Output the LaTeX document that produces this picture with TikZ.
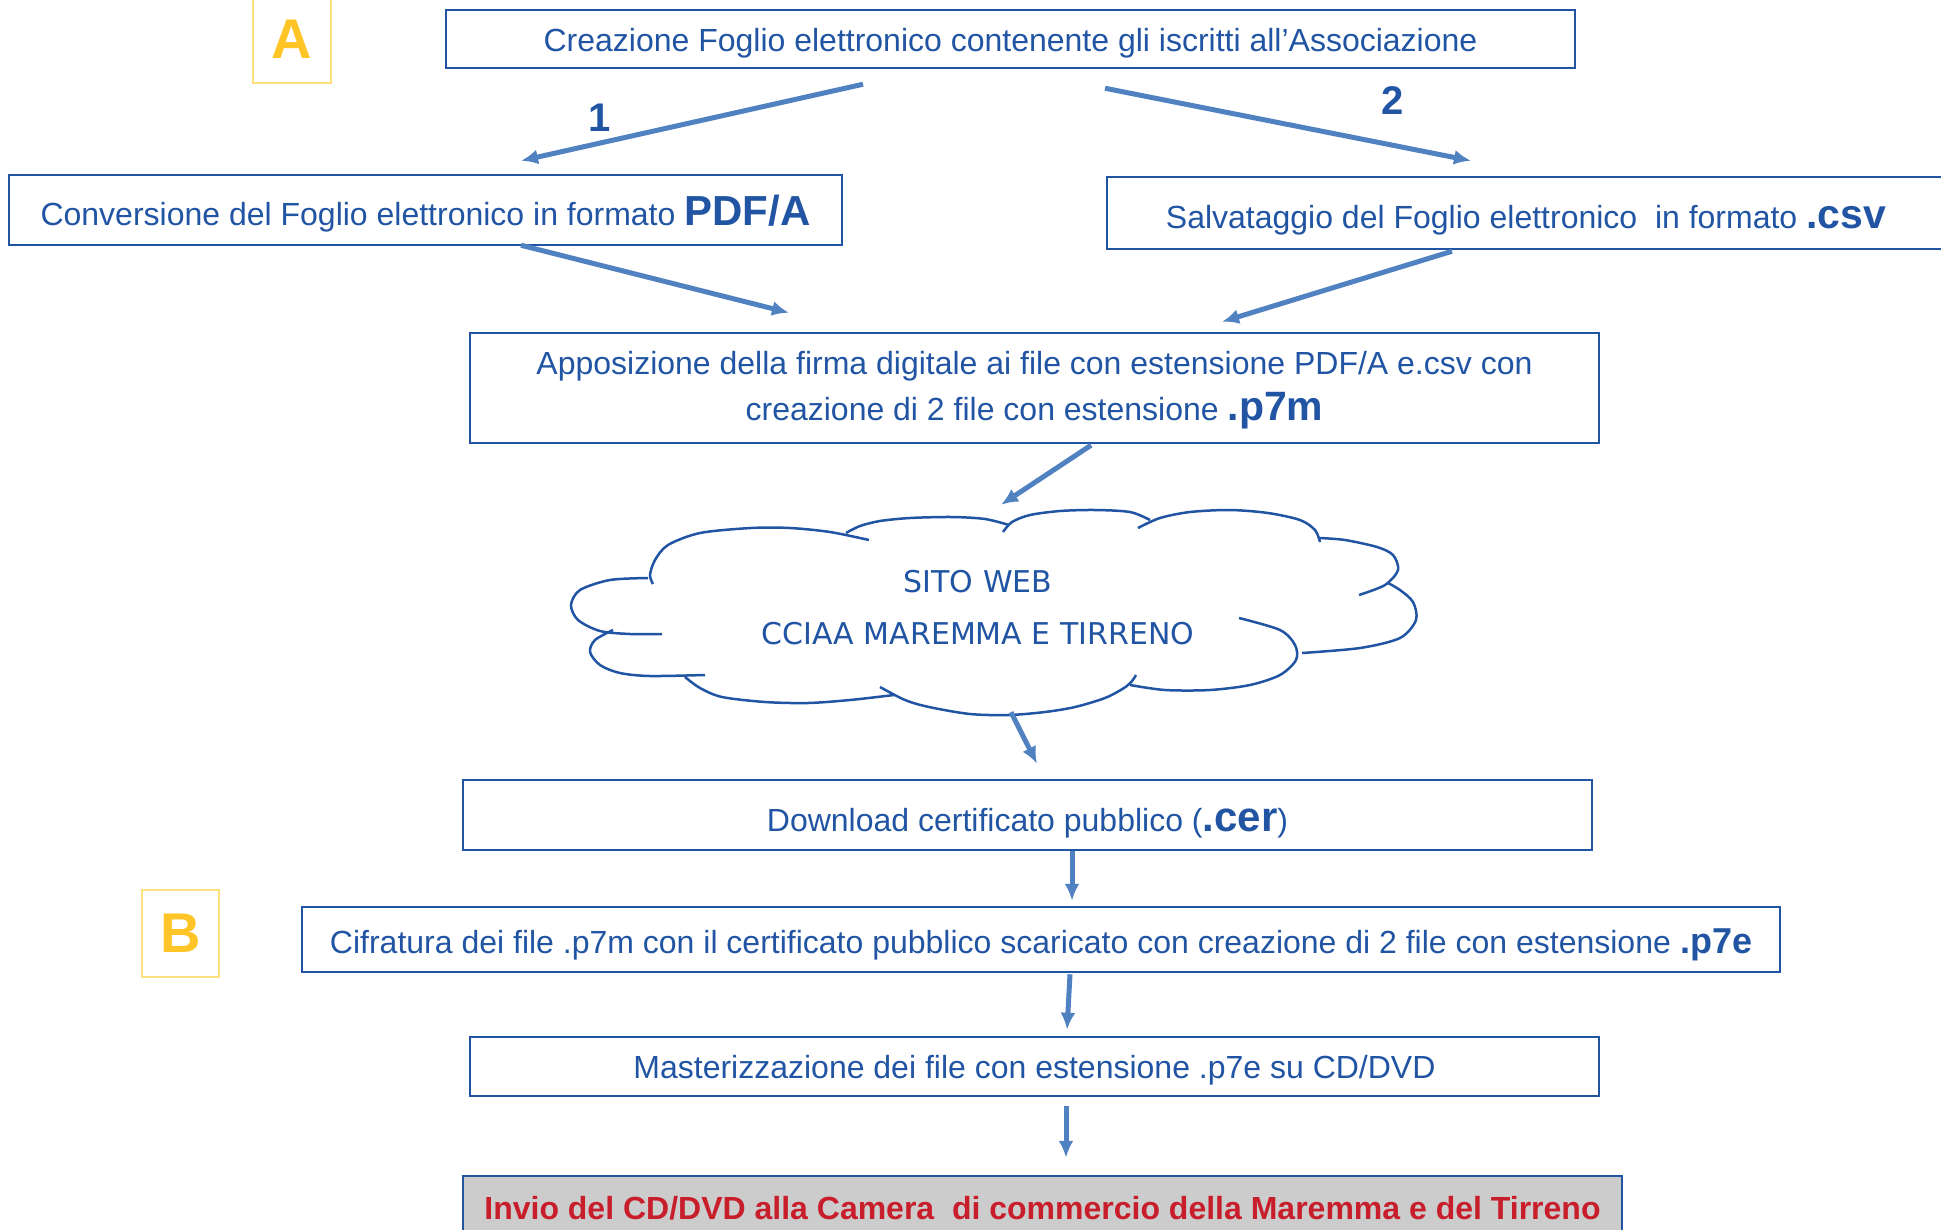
\documentclass[tikz,border=0pt]{standalone}
\usepackage{fontspec}
\setmainfont{Liberation Sans}
\newfontfamily\webfont{DejaVu Sans}
\usetikzlibrary{arrows.meta}
\usepackage{xcolor}
\definecolor{b1}{HTML}{2155A3}
\definecolor{b2}{HTML}{5081C0}
\definecolor{y1}{HTML}{FFC425}
\definecolor{y2}{HTML}{FFE07F}
\definecolor{r1}{HTML}{C81E2B}
\definecolor{g1}{HTML}{CCCCCC}
\newcommand{\ext}[2][41]{{\fontsize{#1}{#1}\selectfont\bfseries #2}}

\begin{document}
\begin{tikzpicture}[x=1pt,y=-1pt,
	box/.style={draw=b1,line width=2.5pt,text=b1,inner sep=0pt,align=center,font=\fontsize{32}{46}\selectfont},
	line/.style={text height=#1,text depth=7pt},
	lettbox/.style={draw=y2,line width=2pt,text=y1,inner sep=0pt,minimum width=78pt,minimum height=88pt,font=\fontsize{56}{56}\selectfont\bfseries},
	arr/.style={b2,line width=5pt,-{Latex[length=17pt,width=15pt]}},
	numlab/.style={text=b1,font=\fontsize{40}{40}\selectfont\bfseries},
	cloudline/.style={draw=b1,line width=2.5pt}]
	\clip (0,0) rectangle (1941,1229);
	% fasi
	\node[lettbox] (lettA) at (292,39) {A};
	\node[lettbox,minimum width=77pt,minimum height=87pt] (lettB) at (180.5,933.5) {B};
	% blocchi
	\node[box,line=31pt,minimum width=1129pt,minimum height=58pt] (crea) at (1010.5,39) {Creazione Foglio elettronico contenente gli iscritti all'Associazione};
	\node[box,line=37pt,minimum width=833pt,minimum height=70pt] (conv) at (425.5,210) {Conversione del Foglio elettronico in formato \ext[42]{PDF/A}};
	\node[box,line=37pt,minimum width=838pt,minimum height=72pt] (salv) at (1526,213) {Salvataggio del Foglio elettronico\ \ in formato \ext{.csv}};
	\node[box,minimum width=1129pt,minimum height=110pt] (firma) at (1034.5,388) {\rule{0pt}{28pt}Apposizione della firma digitale ai file con estensione PDF/A e.csv con\\creazione di 2 file con estensione \ext{.p7m}};
	\node[box,line=39pt,minimum width=1129pt,minimum height=70pt] (down) at (1027.5,815) {Download certificato pubblico (\ext[42]{.cer})};
	\node[box,line=35pt,minimum width=1478pt,minimum height=65pt] (cifr) at (1041,939.5) {Cifratura dei file .p7m con il certificato pubblico scaricato con creazione di 2 file con estensione \ext[36]{.p7e}};
	\node[box,line=31pt,minimum width=1129pt,minimum height=59pt] (mast) at (1034.5,1066.5) {Masterizzazione dei file con estensione .p7e su CD/DVD};
	\node[box,fill=g1,text=r1,minimum width=1159pt,minimum height=64pt,font=\fontsize{32}{40}\selectfont\bfseries] (invio) at (1042.5,1208) {Invio del CD/DVD alla Camera\ \ di commercio della Maremma e del Tirreno};
	% nuvola
	\draw[cloudline] plot[smooth] coordinates {(653,584) (650,575) (655,560) (668,545) (700,533) (751,528) (790,528) (830,532) (869,540)};
	\draw[cloudline] plot[smooth] coordinates {(846,533) (860,526) (880,521) (910,518) (952,517) (985,519) (1009,525)};
	\draw[cloudline] plot[smooth] coordinates {(1003,532) (1012,522) (1030,515) (1060,511) (1095,510) (1130,512) (1150,520)};
	\draw[cloudline] plot[smooth] coordinates {(1138,528) (1160,518) (1190,512) (1230,510) (1268,513) (1300,520) (1315,530) (1320,542)};
	\draw[cloudline] plot[smooth] coordinates {(1320,538) (1345,540) (1377,547) (1393,555) (1398,570) (1385,585) (1359,595)};
	\draw[cloudline] plot[smooth] coordinates {(1388,583) (1400,590) (1413,602) (1416,620) (1400,638) (1360,648) (1302,653)};
	\draw[cloudline] plot[smooth] coordinates {(1239,618) (1280,630) (1295,645) (1296,660) (1280,675) (1250,685) (1210,690) (1165,690) (1130,685)};
	\draw[cloudline] plot[smooth] coordinates {(1136,675) (1132,681) (1124,688) (1105,698) (1075,707) (1045,712) (1009,715) (970,714) (929,707) (905,700) (880,687)};
	\draw[cloudline] plot[smooth] coordinates {(894,695) (850,700) (808,703) (765,702) (722,697) (700,688) (685,677)};
	\draw[cloudline] plot[smooth] coordinates {(705,675) (650,676) (620,673) (600,665) (590,652) (595,640) (613,630)};
	\draw[cloudline] plot[smooth] coordinates {(662,634) (630,634) (600,631) (578,620) (571,605) (580,590) (610,580) (648,578)};
	\node[inner sep=0pt,minimum width=846pt,minimum height=206pt,text=b1,align=center,font=\webfont\fontsize{30}{52}\selectfont] (web) at (978,608) {SITO WEB\\CCIAA MAREMMA E TIRRENO};
	% numeri
	\node[numlab] (n1) at (600,118) {1};
	\node[numlab] (n2) at (1393,101) {2};
	% frecce
	\draw[arr] ([xshift=-147.5pt,yshift=-15pt]crea.south) -- ([xshift=95.5pt,yshift=13pt]conv.north);
	\draw[arr] ([xshift=94.5pt,yshift=-19pt]crea.south) -- ([xshift=-55pt,yshift=15pt]salv.north);
	\draw[arr] ([xshift=95.5pt,yshift=1pt]conv.south) -- ([xshift=-245.5pt,yshift=19pt]firma.north);
	\draw[arr] ([xshift=-74pt,yshift=-1pt]salv.south) -- ([xshift=187.5pt,yshift=10pt]firma.north);
	\draw[arr] ([xshift=56.5pt,yshift=-1pt]firma.south) -- ([xshift=23pt]web.north);
	\draw[arr] ([xshift=33pt,yshift=-1pt]web.south) -- ([xshift=9.5pt,yshift=15pt]down.north);
	\draw[arr] ([xshift=44.5pt]down.south) -- ([xshift=31pt,yshift=5pt]cifr.north);
	\draw[arr] ([xshift=29pt,yshift=-1pt]cifr.south) -- ([xshift=32.5pt,yshift=6pt]mast.north);
	\draw[arr] ([xshift=31.5pt,yshift=-9pt]mast.south) -- ([xshift=23.5pt,yshift=17pt]invio.north);
\end{tikzpicture}
\end{document}
